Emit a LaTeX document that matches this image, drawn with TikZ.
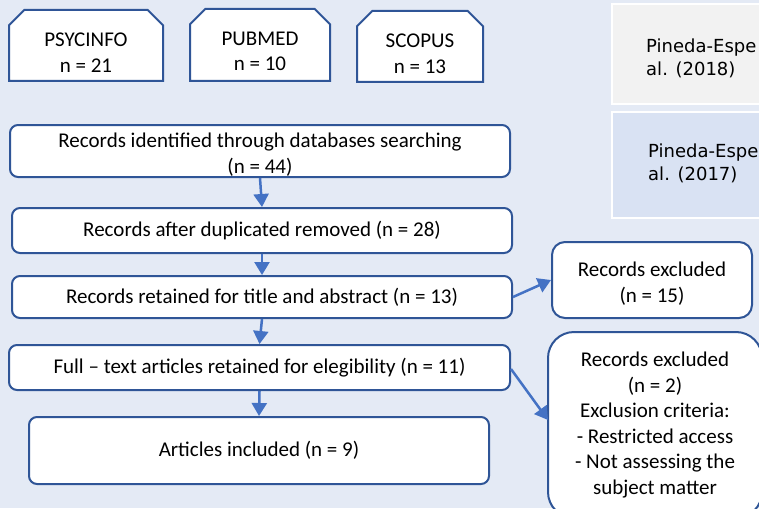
\documentclass[tikz,border=0pt]{standalone}
\usepackage{fontspec}
\setmainfont{Carlito}
\newfontfamily\verd{DejaVu Sans}
\usetikzlibrary{shapes.misc,arrows.meta,calc}
\definecolor{bg}{HTML}{E4EAF5}
\definecolor{bord}{HTML}{2F5597}
\definecolor{arr}{HTML}{4472C4}
\definecolor{gbox}{HTML}{F2F2F2}
\definecolor{bbox}{HTML}{D9E2F3}
\newcommand{\pushdown}[1]{\rule{0pt}{#1}}
\begin{document}
\begin{tikzpicture}[x=1pt,y=-1pt,
  font=\fontsize{21}{25.5}\selectfont,
  box/.style={draw=bord, fill=white, line width=2pt, rounded corners=8pt, inner sep=0pt, align=center},
  db/.style={draw=bord, fill=white, line width=2pt, chamfered rectangle,
    chamfered rectangle corners={north west,north east}, chamfered rectangle xsep=12pt,
    inner sep=0pt, align=center},
  ref/.style={draw=white, line width=2pt, inner sep=0pt, anchor=north west},
  reftext/.style={font=\verd\fontsize{18}{23}\selectfont, anchor=base west, inner sep=0pt},
  link/.style={draw=arr, line width=2.5pt, -{Triangle[length=13pt,width=15pt]}}]
\useasboundingbox (0,0) rectangle (759,508);
\clip (0,0) rectangle (759,508);
\fill[bg] (0,0) rectangle (759,508);

% database boxes
\node[db, minimum width=154pt, minimum height=71pt] (psy) at (86,45.5) {\pushdown{28pt}PSYCINFO\\n = 21};
\node[db, minimum width=140pt, minimum height=72pt] (pub) at (260,45) {\pushdown{26pt}PUBMED\\n = 10};
\node[db, minimum width=126pt, minimum height=71pt] (sco) at (420,46.5) {\pushdown{28pt}SCOPUS\\n = 13};

% reference boxes on the right
\node[ref, fill=gbox, minimum width=152pt, minimum height=100pt] (r1) at (611,3) {};
\node[ref, fill=bbox, minimum width=152pt, minimum height=106pt] (r2) at (611,111) {};
\node[reftext] (r1a) at (646,53) {Pineda-Espe};
\node[reftext] (r1b) at (646,76) {al. (2018)};
\node[reftext] (r2a) at (648,157) {Pineda-Espe};
\node[reftext] (r2b) at (648,180) {al. (2017)};

% main flow
\node[box, minimum width=500pt, minimum height=52pt] (b1) at (260,151) {\pushdown{22pt}Records identified through databases searching\\(n = 44)};
\node[box, minimum width=500pt, minimum height=45pt] (b2) at (262,230.5) {Records after duplicated removed (n = 28)};
\node[box, minimum width=500pt, minimum height=42pt] (b3) at (262,297) {Records retained for title and abstract (n = 13)};
\node[box, minimum width=501pt, minimum height=45pt] (b4) at (259.5,367.5) {Full -- text articles retained for elegibility (n = 11)};
\node[box, minimum width=460pt, minimum height=67pt] (b5) at (259,450.5) {Articles included (n = 9)};

% exclusion boxes
\node[box, rounded corners=13pt, minimum width=200pt, minimum height=76pt] (e1) at (652,280) {\pushdown{22pt}Records excluded\\(n = 15)};
\node[box, rounded corners=26pt, minimum width=214pt, minimum height=186pt] (e2) at (655,425) {Records excluded\\(n = 2)\\Exclusion criteria:\\- Restricted access\\- Not assessing the\\subject matter};

% connectors
\coordinate (b4out) at (511,369);
\coordinate (e2in) at (548,420);
\draw[link] (b1.south) -- (b2.north);
\draw[link] (b2.south) -- (b3.north);
\draw[link] (b3.south) -- (b4.north);
\draw[link] (b4.south) -- (b5.north);
\draw[link] (b3.east) -- (e1.west);
\draw[link] (b4out) -- (e2in);
\end{tikzpicture}
\end{document}
